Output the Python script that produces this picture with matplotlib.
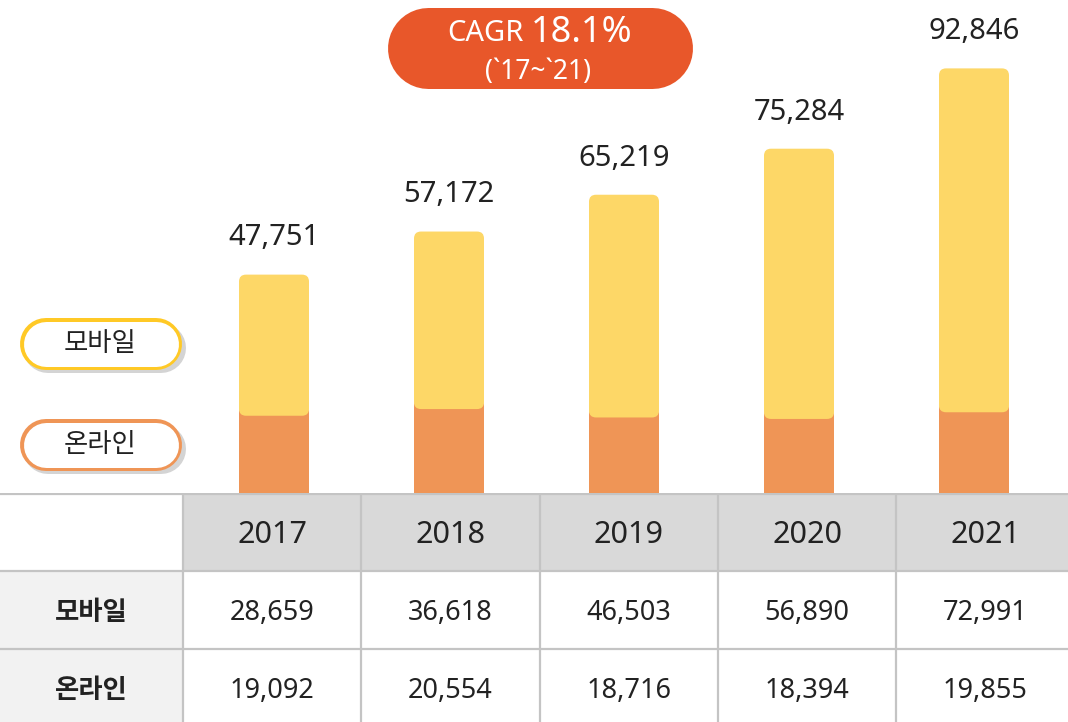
import matplotlib
matplotlib.use('Agg')
import matplotlib.pyplot as plt
from matplotlib.patches import FancyBboxPatch, Rectangle

plt.rcParams['font.family'] = ['Noto Sans', 'Noto Sans CJK KR', 'DejaVu Sans']

# data
years = ['2017', '2018', '2019', '2020', '2021']
mobile = [28659, 36618, 46503, 56890, 72991]
online = [19092, 20554, 18716, 18394, 19855]
totals = [m + o for m, o in zip(mobile, online)]
series_names = ['모바일', '온라인']
cagr_text = 'CAGR'
cagr_value = '18.1%'
cagr_period = '(`17~`21)'

YELLOW = '#FDD767'
ORANGE = '#EF9556'
BADGE = '#E8572A'
TXT = '#222222'

fig = plt.figure(figsize=(10.68, 7.22), dpi=100)
base = 1 - 493 / 722

# ---- bar chart ----
ax = fig.add_axes([0, base, 1, 1 - base])
ax.set_xlim(-274 / 175, (1068 - 274) / 175)
ymax = 107800
ax.set_ylim(0, ymax)
ax.axis('off')

xs = list(range(len(years)))
bw = 70 / 175
overlap = 2200
px_x = 1 / 175          # x units per pixel
px_y = ymax / 493       # y units per pixel
aspect = px_y / px_x
rad = 7 * px_x

bars_o = ax.bar(xs, online, width=bw, color=ORANGE)
bars_m = ax.bar(xs, [m + overlap for m in mobile], bottom=[o - overlap for o in online],
                width=bw, color=YELLOW)

for bars, z, extra in ((bars_o, 2, 2 * rad * aspect), (bars_m, 3, 0)):
    for b in bars:
        b.set_visible(False)
        y0 = b.get_y() - extra
        p = FancyBboxPatch((b.get_x(), y0), b.get_width(), b.get_height() + extra,
                           boxstyle=f'round,pad=0,rounding_size={rad}',
                           mutation_aspect=aspect, fc=b.get_facecolor(), ec='none',
                           zorder=z, clip_on=True)
        ax.add_patch(p)

for x, t in zip(xs, totals):
    ax.annotate(f'{t:,}', (x, t), xytext=(0, 21), textcoords='offset points',
                ha='center', va='baseline', fontsize=21, color=TXT)

# ---- CAGR badge & legend pills (inches, drawn as round-capped lines) ----
tr = fig.dpi_scale_trans
def pill(x0, x1, yc, h, color, z, alpha=1.0):
    r = h / 2
    fig.add_artist(plt.Line2D([x0 + r, x1 - r], [yc, yc], transform=tr, color=color,
                              lw=h * 72, solid_capstyle='round', alpha=alpha, zorder=z))

pill(3.87, 6.92, 6.745, 0.81, BADGE, 5)
fig.text(5.24, 6.885, cagr_text, transform=tr, ha='right', va='center',
         fontsize=21, color='white', zorder=6)
fig.text(5.31, 6.895, cagr_value, transform=tr, ha='left', va='center',
         fontsize=26, color='white', zorder=6)
fig.text(5.38, 6.5, cagr_period, transform=tr, ha='center', va='center',
         fontsize=19, color='white', zorder=6)

for name, col, yc in ((series_names[0], '#FFC926', 3.78), (series_names[1], ORANGE, 2.77)):
    pill(0.23, 1.86, yc - 0.04, 0.5, '#A0A0A0', 4, alpha=0.45)
    pill(0.2, 1.82, yc, 0.52, col, 5)
    pill(0.2 + 0.035, 1.82 - 0.035, yc, 0.52 - 0.07, 'white', 5.5)
    fig.text(1.0, yc, name, transform=tr, ha='center', va='center',
             fontsize=19, color=TXT, zorder=6)

# ---- table ----
tx = fig.add_axes([0, 0, 1, base])
left = -0.5 - 183 / 178.3
right = -0.5 + (1068 - 183) / 178.3
tx.set_xlim(left, right)
tx.set_ylim(0, 229)
tx.axis('off')
row_tops = [229, 151, 73]
row_bots = [151, 73, 0]
line_col = '#C4C4C4'

for i, y in enumerate(years):
    tx.add_patch(Rectangle((i - 0.5, row_bots[0]), 1, 78, fc='#D9D9D9', ec='none'))
    tx.text(i, (row_tops[0] + row_bots[0]) / 2 - 3, y, ha='center', va='center',
            fontsize=22, color=TXT)
for r, (name, vals) in enumerate(((series_names[0], mobile), (series_names[1], online)), start=1):
    tx.add_patch(Rectangle((left, row_bots[r]), -0.5 - left, row_tops[r] - row_bots[r],
                           fc='#F2F2F2', ec='none'))
    cy = (row_tops[r] + row_bots[r]) / 2 - (3 if r == 1 else 5)
    tx.text((left - 0.5) / 2, cy, name, ha='center', va='center', fontsize=19,
            fontweight='bold', color=TXT)
    for i, v in enumerate(vals):
        tx.text(i, cy, f'{v:,}', ha='center', va='center', fontsize=19.5, color=TXT)

for y in row_tops:
    yy = y - 0.8 if y == 229 else y
    tx.plot([left, right], [yy, yy], color=line_col, lw=1.6)
for i in range(len(years)):
    tx.plot([i - 0.5, i - 0.5], [0, 229], color=line_col, lw=1.6)

fig.savefig('out.png', dpi=100)
